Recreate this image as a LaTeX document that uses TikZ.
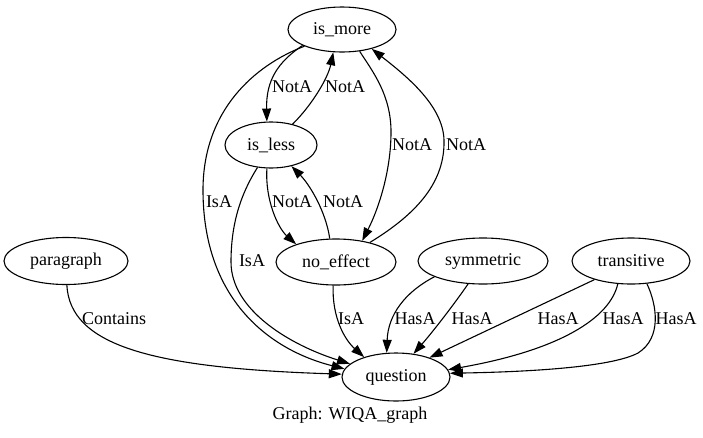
\documentclass[tikz,border=0pt]{standalone}
\usepackage{fontspec}
\setmainfont{Liberation Serif}
\usetikzlibrary{shapes.geometric,arrows.meta}
\begin{document}
\begin{tikzpicture}[x=1pt,y=-1pt,
  every node/.style={font=\fontsize{18}{20}\selectfont},
  gnode/.style={draw,ellipse,line width=1.1pt,inner sep=0pt},
  elabel/.style={inner sep=0pt},
  edge/.style={line width=1.1pt,-{Triangle[length=13pt,width=9pt]}}]
\useasboundingbox (0,0) rectangle (703,437);
% nodes
\node[gnode,minimum width=108pt,minimum height=45pt] (ismore) at (342,29.5) {is\_more};
\node[gnode,minimum width=92pt,minimum height=46pt] (isless) at (271,145) {is\_less};
\node[gnode,minimum width=120pt,minimum height=46pt] (noeffect) at (336,262) {no\_effect};
\node[gnode,minimum width=124pt,minimum height=47pt] (paragraph) at (66,261) {paragraph};
\node[gnode,minimum width=130pt,minimum height=46pt] (symmetric) at (483,261) {symmetric};
\node[gnode,minimum width=118pt,minimum height=46pt] (transitive) at (631,261) {transitive};
\node[gnode,minimum width=108pt,minimum height=48pt] (question) at (396,377) {question};
\node[elabel] (glabel) at (350,415) {Graph: WIQA\_graph};
% edges
\draw[edge] (ismore.-158) .. controls (278,62) and (266,80) .. (isless.100);
\draw[edge] (isless.44) .. controls (312,105) and (328,78) .. (ismore.249);
\draw[edge] (ismore.-51) .. controls (373,72) and (391,95) .. (391,132) .. controls (391,172) and (378,210) .. (noeffect.39);
\draw[edge] (noeffect.30) .. controls (420,212) and (445,180) .. (444,140) .. controls (443,105) and (405,75) .. (ismore.-33);
\draw[edge] (isless.-100) .. controls (265,200) and (278,228) .. (noeffect.156);
\draw[edge] (noeffect.105) .. controls (326,212) and (310,185) .. (isless.-46);
\draw[edge] (ismore.-156) .. controls (255,65) and (203,110) .. (203,190) .. controls (203,300) and (270,350) .. (question.171);
\draw[edge] (isless.-121) .. controls (240,195) and (231,225) .. (231,262) .. controls (231,310) and (290,345) .. (question.164);
\draw[edge] (noeffect.-97) .. controls (332,318) and (345,340) .. (question.148);
\draw[edge] (paragraph.-88) .. controls (70,345) and (150,368) .. (question.177);
\draw[edge] (symmetric.-162) .. controls (405,292) and (388,315) .. (question.111);
\draw[edge] (symmetric.-123) .. controls (450,310) and (430,335) .. (question.53);
\draw[edge] (transitive.-153) -- (question.30);
\draw[edge] (transitive.-120) .. controls (610,318) and (560,350) .. (question.8);
\draw[edge] (transitive.-55) .. controls (657,305) and (662,338) .. (638,353) .. controls (610,368) and (520,372) .. (question.4);
% edge labels
\node[elabel] (l1) at (292,87) {NotA};
\node[elabel] (l2) at (345,87) {NotA};
\node[elabel] (l3) at (412,145) {NotA};
\node[elabel] (l4) at (466,145) {NotA};
\node[elabel] (l5) at (292,202) {NotA};
\node[elabel] (l6) at (343,202) {NotA};
\node[elabel] (l7) at (219,202) {IsA};
\node[elabel] (l8) at (252,261) {IsA};
\node[elabel] (l9) at (351,319) {IsA};
\node[elabel] (l10) at (114,319) {Contains};
\node[elabel] (l11) at (415,319) {HasA};
\node[elabel] (l12) at (472,319) {HasA};
\node[elabel] (l13) at (558,319) {HasA};
\node[elabel] (l14) at (623,319) {HasA};
\node[elabel] (l15) at (676,319) {HasA};
\end{tikzpicture}
\end{document}
